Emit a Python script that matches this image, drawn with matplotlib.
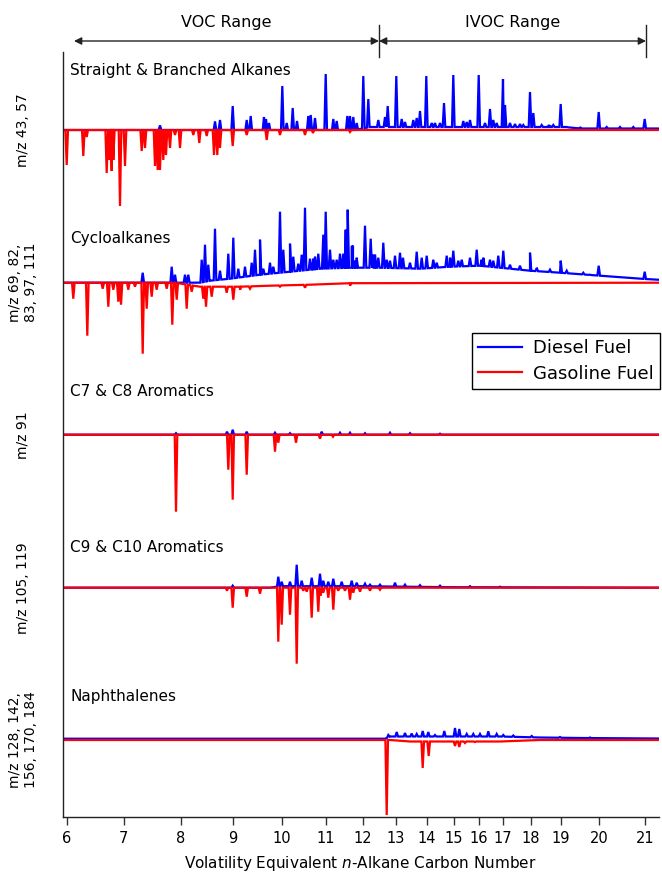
import numpy as np
import matplotlib.pyplot as plt
from matplotlib.lines import Line2D

# n-alkane retention times (min) -> x tick positions
alkane_cn = [6, 7, 8, 9, 10, 11, 12, 13, 14, 15, 16, 17, 18, 19, 20, 21]
alkane_rt = [6.67, 12.37, 18.07, 23.3, 28.2, 32.6, 36.3, 39.6, 42.65, 45.35,
             47.9, 50.3, 53.05, 56.1, 59.9, 64.5]

range_labels = ["VOC Range", "IVOC Range"]
range_edges_rt = [7.4, 37.9, 64.6]

titles = ["Straight & Branched Alkanes", "Cycloalkanes", "C7 & C8 Aromatics",
          "C9 & C10 Aromatics", "Naphthalenes"]
ion_labels = ["m/z 43, 57", "m/z 69, 82,\n83, 97, 111", "m/z 91",
              "m/z 105, 119", "m/z 128, 142,\n156, 170, 184"]
offsets = [610, 457.3, 305.3, 152.3, 0]
title_dy = [60, 44, 43, 40, 43]

# ---- panel 1: m/z 43, 57
alk_d_rt = [16.0, 21.5, 22.0, 23.27, 24.67, 25.07, 26.4, 26.6, 26.9, 28.23, 28.67, 29.27,
            29.7, 30.83, 31.07, 31.5, 32.57, 33.33, 33.67, 34.73, 35.0, 35.33, 36.33, 36.83,
            38.5, 38.77, 39.63, 40.17, 41.33, 41.67, 42.0, 42.63, 44.0, 44.4, 45.33, 46.67,
            47.0, 47.87, 49.0, 49.33, 50.3, 50.5, 51.5, 52.0, 53.0, 53.33, 54.17, 54.83,
            56.07, 59.87, 64.47,
            35.67, 37.83, 40.5, 43.17, 43.5, 46.33, 48.5, 49.67, 51.0, 52.33, 55.0, 55.33,
            56.67, 58.0, 60.67, 62.0, 63.33]
alk_d_h = [4.6, 8.6, 10, 24, 10, 14, 13, 11, 7, 44, 7, 22,
           9, 14, 15, 12, 56, 11, 9, 14, 14, 13, 54, 31,
           13, 24, 54, 11, 10, 12, 19, 54, 7, 27, 55, 8,
           10, 55, 21, 10, 51, 25, 6, 6, 38, 17, 5, 4,
           26, 18, 11,
           7, 10, 8, 7, 7, 9, 7, 7, 7, 5, 4, 5,
           3, 3, 3, 3, 3]
alk_d_bg_rt = [6.4, 35.5, 37.0, 56.5, 58.0, 65.8]
alk_d_bg_h = [0, 0, 3, 3, 1.5, 1.5]
alk_g_rt = [6.67, 8.33, 8.67, 10.67, 10.93, 11.17, 11.33, 12.0, 12.5, 14.17, 14.5, 15.5,
            15.77, 16.0, 16.33, 16.6, 17.0, 17.5, 18.0, 19.33, 19.93, 20.67, 21.4, 21.73,
            22.0, 23.27, 24.67, 26.67, 28.0, 30.5, 31.3, 35.0]
alk_g_h = [-35, -26, -7, -43, -30, -41, -30, -76, -36, -21, -18, -36,
           -40, -40, -30, -25, -18, -5, -18, -5, -13, -6, -25, -25,
           -18, -16, -5, -10, -5, -5, -3, -2]
alk_g_bg_rt = [6.4, 65.8]
alk_g_bg_h = [0, 0]

# ---- panel 2: m/z 69, 82, 83, 97, 111
cyc_d_rt = [14.27, 17.17, 17.5, 18.5, 18.83, 20.17, 20.5, 20.83, 21.5, 22.0, 22.83, 23.33,
            23.83, 24.5, 25.17, 25.5, 26.0, 26.33, 27.0, 28.0, 28.33, 29.0, 29.33, 30.5,
            31.0, 31.5, 32.33, 32.57, 33.0, 33.33, 34.33, 34.57, 34.77, 35.17, 35.3, 35.5,
            36.5, 37.07, 37.5, 38.33, 39.0, 40.0, 41.0, 41.67, 42.67, 43.67, 44.67, 45.33,
            45.83, 47.67, 48.17, 49.0, 50.33, 51.0, 53.0, 53.67, 56.07, 58.33, 59.87, 64.47,
            27.33, 29.83, 30.17, 31.33, 31.83, 33.67, 34.0, 35.67, 37.33, 37.83, 38.67, 39.5,
            40.3, 42.17, 43.33, 45.0, 46.17, 47.0, 48.33, 49.33, 49.83, 52.0, 53.67, 55.0,
            56.67, 59.0]
cyc_d_h = [10, 16, 8, 8, 8, 23, 38, 18, 54, 12, 29, 45,
           14, 16, 20, 33, 43, 14, 20, 71, 33, 39, 26, 75,
           24, 26, 48, 71, 33, 23, 29, 53, 73, 36, 37, 22,
           57, 44, 28, 40, 22, 30, 20, 31, 27, 20, 27, 32,
           22, 33, 23, 23, 32, 18, 30, 14, 22, 10, 17, 11,
           16, 19, 28, 24, 29, 23, 29, 25, 28, 25, 23, 27,
           25, 25, 23, 25, 23, 25, 25, 22, 27, 17, 15, 13,
           12, 8]
cyc_d_bg_rt = [6.4, 20.0, 21.0, 23.0, 26.0, 29.0, 32.0, 35.0, 38.0, 42.0, 45.0, 48.0,
               50.0, 53.0, 56.0, 60.0, 64.0, 65.8]
cyc_d_bg_h = [0, 0, 2, 4, 8, 11, 14, 15, 15, 14, 16, 17, 15, 12, 10, 7, 4, 3]
cyc_g_rt = [7.33, 8.73, 10.27, 10.83, 11.33, 11.83, 12.1, 12.83, 13.5, 14.27, 14.67, 15.17,
            15.67, 16.67, 17.23, 17.67, 18.67, 19.17, 20.33, 20.6, 21.17, 22.67, 23.33, 24.0,
            25.0, 28.0, 30.5, 35.0]
cyc_g_h = [-16, -53, -6, -24, -7, -19, -22, -7, -4, -71, -26, -14,
           -7, -6, -42, -17, -26, -9, -16, -24, -14, -10, -17, -7,
           -6, -4, -5, -3]
cyc_g_bg_rt = [6.4, 17.5, 20.0, 24.0, 27.0, 31.0, 35.0, 65.8]
cyc_g_bg_h = [0, 0, -4, -4, -3, -2, -0.5, 0]

# ---- panel 3: m/z 91
c78_d_rt = [17.6, 22.7, 23.27, 24.67, 27.5, 29.0, 32.17, 34.0, 35.0, 36.5, 39.0, 41.0, 44.0]
c78_d_h = [1.5, 3, 5, 3, 2, 1.5, 3, 2, 2, 1.5, 2, 1.5, 1]
c78_d_bg_rt = [6.4, 65.8]
c78_d_bg_h = [0, 0]
c78_g_rt = [17.6, 22.83, 23.27, 24.67, 27.5, 27.83, 29.6, 32.0, 33.3]
c78_g_h = [-77, -35, -65, -40, -17, -8, -8, -4, -2]
c78_g_bg_rt = [6.4, 65.8]
c78_g_bg_h = [0, 0]

# ---- panel 4: m/z 105, 119
c910_d_rt = [23.27, 27.83, 28.17, 29.0, 29.67, 30.17, 31.17, 32.0, 32.33, 32.83, 33.33, 34.17,
             35.17, 35.67, 36.5, 37.0, 38.0, 39.5, 40.5, 42.0, 44.0, 47.0, 50.0]
c910_d_h = [2, 11, 6, 6, 23, 7, 10, 14, 7, 6, 9, 6,
            7, 5, 4, 3, 3, 5, 3, 2.5, 2, 1.5, 1]
c910_d_bg_rt = [6.4, 27.0, 28.0, 36.0, 45.0, 65.8]
c910_d_bg_h = [0, 0, 1.5, 1.5, 0.5, 0]
c910_g_rt = [22.7, 23.27, 24.67, 26.0, 27.83, 28.17, 29.0, 29.67, 30.33, 30.67, 31.17, 31.83,
             32.07, 32.33, 32.83, 33.33, 33.83, 34.5, 35.0, 35.33, 36.0, 37.0, 38.0]
c910_g_h = [-3, -20, -9, -6, -54, -37, -27, -76, -3, -4, -30, -24,
            -8, -5, -10, -22, -3, -3, -12, -5, -4, -3, -2]
c910_g_bg_rt = [6.4, 65.8]
c910_g_bg_h = [0, 0]

# ---- panel 5: m/z 128, 142, 156, 170, 184
nap_d_rt = [38.83, 39.67, 40.5, 41.17, 41.67, 42.27, 42.83, 43.5, 44.43, 45.5, 45.93, 46.67,
            47.33, 48.0, 48.83, 49.67, 50.33, 51.33, 53.17, 56.0, 59.0]
nap_d_h = [5, 8, 7, 6.5, 6, 9, 8, 5, 9, 12, 11, 6,
           6, 6, 8.7, 6, 5, 4.5, 4, 3, 2.5]
nap_d_bg_rt = [6.4, 38.5, 39.0, 50.0, 54.0, 58.0, 65.8]
nap_d_bg_h = [1.3, 1.3, 3.5, 3.5, 2.5, 2.0, 1.5]
nap_g_rt = [38.67, 42.27, 42.87, 45.5, 45.93, 46.5, 47.5]
nap_g_h = [-75, -28, -16, -6, -7, -3, -2]
nap_g_bg_rt = [6.4, 39.0, 41.0, 50.0, 54.0, 65.8]
nap_g_bg_h = [0, 0, -1.5, -1.5, 0, 0]

diesel = [(alk_d_rt, alk_d_h, alk_d_bg_rt, alk_d_bg_h),
          (cyc_d_rt, cyc_d_h, cyc_d_bg_rt, cyc_d_bg_h),
          (c78_d_rt, c78_d_h, c78_d_bg_rt, c78_d_bg_h),
          (c910_d_rt, c910_d_h, c910_d_bg_rt, c910_d_bg_h),
          (nap_d_rt, nap_d_h, nap_d_bg_rt, nap_d_bg_h)]
gasoline = [(alk_g_rt, alk_g_h, alk_g_bg_rt, alk_g_bg_h),
            (cyc_g_rt, cyc_g_h, cyc_g_bg_rt, cyc_g_bg_h),
            (c78_g_rt, c78_g_h, c78_g_bg_rt, c78_g_bg_h),
            (c910_g_rt, c910_g_h, c910_g_bg_rt, c910_g_bg_h),
            (nap_g_rt, nap_g_h, nap_g_bg_rt, nap_g_bg_h)]


def trace(rt, h, bg_rt, bg_h, w=0.13):
    """Join baseline points and narrow peaks into one chromatogram line."""
    pts = [(x, y) for x, y in zip(bg_rt, bg_h)]
    for x, y in zip(rt, h):
        pts.append((x - w, float(np.interp(x - w, bg_rt, bg_h))))
        pts.append((x, y))
        pts.append((x + w, float(np.interp(x + w, bg_rt, bg_h))))
    pts.sort(key=lambda p: p[0])
    xs, ys = zip(*pts)
    return np.array(xs), np.array(ys)


fig = plt.figure(figsize=(6.62, 8.76), dpi=100)
ax = fig.add_axes([62.5 / 662, 1 - 817 / 876, (658.6 - 62.5) / 662, (817 - 51.7) / 876])

for i in range(5):
    off = offsets[i]
    x, y = trace(*diesel[i])
    ax.plot(x, y + off, color="#0000ff", lw=1.6, solid_joinstyle="miter")
    x, y = trace(*gasoline[i])
    ax.plot(x, y + off, color="#ff0000", lw=1.6, solid_joinstyle="miter")
    ax.text(7.0, off + title_dy[i], titles[i], fontsize=11, va="center", ha="left")
    ax.annotate(ion_labels[i], xy=(23 / 662, off), xycoords=("figure fraction", "data"),
                rotation=90, ha="center", va="center", multialignment="center",
                fontsize=10, linespacing=1.25)

ax.set_xlim(6.25, 65.86)
ax.set_ylim(-77, 688.3)
ax.set_xticks(alkane_rt, labels=[str(c) for c in alkane_cn])
ax.set_yticks([])
ax.tick_params(axis="x", length=6, width=1, labelsize=10.5, pad=4, color="#333333")
for s in ["top", "right"]:
    ax.spines[s].set_visible(False)
for s in ["left", "bottom"]:
    ax.spines[s].set_color("#222222")
    ax.spines[s].set_linewidth(1)
ax.set_xlabel("Volatility Equivalent $n$-Alkane Carbon Number", fontsize=11, labelpad=6)

# VOC / IVOC range arrows above the plot
arrow_y, bar_lo, bar_hi, text_y = 699, 683, 715, 718
for j, lab in enumerate(range_labels):
    a, b = range_edges_rt[j], range_edges_rt[j + 1]
    ax.annotate("", xy=(a, arrow_y), xytext=(b, arrow_y), annotation_clip=False,
                arrowprops=dict(arrowstyle="<|-|>", color="#222222", lw=1,
                                shrinkA=0, shrinkB=0, mutation_scale=11))
    ax.text((a + b) / 2, text_y, lab, ha="center", va="center", fontsize=11.5, clip_on=False)
for e in range_edges_rt[1:]:
    ax.plot([e, e], [bar_lo, bar_hi], color="#222222", lw=1, clip_on=False)

handles = [Line2D([], [], color="#0000ff", lw=1.6), Line2D([], [], color="#ff0000", lw=1.6)]
leg = ax.legend(handles, ["Diesel Fuel", "Gasoline Fuel"], loc="upper left",
                bbox_to_anchor=(463 / 662, 1 - 324 / 876), bbox_transform=fig.transFigure,
                fontsize=13, handlelength=2.4, fancybox=False, framealpha=1,
                edgecolor="black", borderpad=0.35, labelspacing=0.4, handletextpad=0.6)
leg.get_frame().set_linewidth(1)

fig.savefig("out.png", dpi=100)
